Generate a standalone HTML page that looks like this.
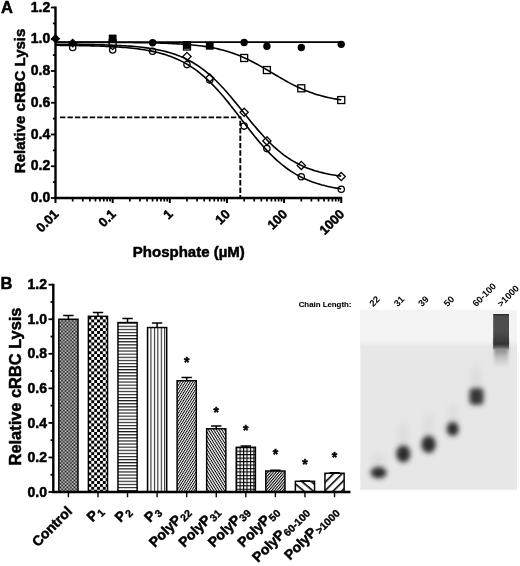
<!DOCTYPE html>
<html><head><meta charset="utf-8"><title>Figure</title>
<style>
html,body{margin:0;padding:0;background:#fff;}
svg{display:block;font-family:"Liberation Sans",sans-serif;}
.tk{font-size:14px;font-weight:bold;}
.tx{font-size:13px;font-weight:bold;}
.al{font-size:15px;font-weight:bold;}
.pl{font-size:16.5px;font-weight:bold;}
text{stroke:#000;stroke-width:0.5px;stroke-linejoin:round;}
.bl{font-size:14px;font-weight:bold;}
.sb{font-size:10.5px;stroke-width:0.35px;}
.st{font-size:14px;font-weight:bold;}
.cl{font-size:7.85px;font-weight:bold;stroke-width:0.1px;}
.ln{font-size:9.3px;font-weight:bold;stroke-width:0;}
</style></head><body>
<svg width="520" height="566" viewBox="0 0 520 566">
<defs>
<pattern id="pCtl" width="1.4" height="1.4" patternUnits="userSpaceOnUse"><rect width="1.4" height="1.4" fill="#e8e8e8"/><rect width="0.7" height="0.7" fill="#000"/><rect x="0.7" y="0.7" width="0.7" height="0.7" fill="#000"/></pattern>
<pattern id="pChk" width="5.77" height="5.77" patternUnits="userSpaceOnUse" x="88.4" y="316.6"><rect width="5.77" height="5.77" fill="#fff"/><rect width="2.95" height="2.95" fill="#000"/><rect x="2.88" y="2.88" width="2.95" height="2.95" fill="#000"/></pattern>
<pattern id="pH" width="4" height="3.1" patternUnits="userSpaceOnUse" y="322.6"><rect width="4" height="3.1" fill="#fff"/><rect width="4" height="1.15" fill="#1a1a1a"/></pattern>
<pattern id="pV" width="3.44" height="4" patternUnits="userSpaceOnUse" x="147"><rect width="3.44" height="4" fill="#fff"/><rect width="1.05" height="4" fill="#222"/></pattern>
<pattern id="pD1" width="2.1" height="2.1" patternUnits="userSpaceOnUse" patternTransform="rotate(-58)"><rect width="2.1" height="2.1" fill="#fff"/><rect width="2.1" height="0.95" fill="#000"/></pattern>
<pattern id="pD3" width="2.1" height="2.1" patternUnits="userSpaceOnUse" patternTransform="rotate(-50)"><rect width="2.1" height="2.1" fill="#fff"/><rect width="2.1" height="1.05" fill="#000"/></pattern>
<pattern id="pD2" width="2.3" height="2.3" patternUnits="userSpaceOnUse" patternTransform="rotate(58)"><rect width="2.3" height="2.3" fill="#fff"/><rect width="2.3" height="1" fill="#000"/></pattern>
<pattern id="pG" width="3.46" height="3.46" patternUnits="userSpaceOnUse" x="236.1" y="447.2"><rect width="3.46" height="3.46" fill="#fff"/><rect width="3.46" height="1.1" fill="#000"/><rect width="1.1" height="3.46" fill="#000"/></pattern>
<pattern id="pW1" width="6" height="6" patternUnits="userSpaceOnUse" patternTransform="rotate(-45)"><rect width="6" height="6" fill="#fff"/><rect width="6" height="1.6" fill="#000"/></pattern>
<pattern id="pW2" width="6" height="6" patternUnits="userSpaceOnUse" patternTransform="rotate(40)"><rect width="6" height="6" fill="#fff"/><rect width="6" height="1.6" fill="#000"/></pattern>
<linearGradient id="gTop" x1="0" y1="0" x2="0" y2="1"><stop offset="0" stop-color="#f3f3f3"/><stop offset="0.8" stop-color="#f4f4f4"/><stop offset="1" stop-color="#e7e7e7"/></linearGradient>
<linearGradient id="gBig" x1="0" y1="0" x2="0" y2="1"><stop offset="0" stop-color="#262626"/><stop offset="0.07" stop-color="#4c4c4c"/><stop offset="0.45" stop-color="#4e4e4e"/><stop offset="0.72" stop-color="#3e3e3e"/><stop offset="0.85" stop-color="#343434"/><stop offset="0.92" stop-color="#555"/><stop offset="1" stop-color="#959595"/></linearGradient>
<linearGradient id="gTail" x1="0" y1="0" x2="0" y2="1"><stop offset="0" stop-color="#8a8a8a"/><stop offset="0.42" stop-color="#909090"/><stop offset="0.65" stop-color="#c2c2c2"/><stop offset="1" stop-color="#e7e7e7"/></linearGradient>
<filter id="bl2s" x="-40%" y="-20%" width="180%" height="140%"><feGaussianBlur stdDeviation="1.6"/></filter>
<filter id="bl1" x="-30%" y="-10%" width="160%" height="120%"><feGaussianBlur stdDeviation="0.7"/></filter>
<filter id="bl2" x="-80%" y="-80%" width="260%" height="260%"><feGaussianBlur stdDeviation="2.5"/></filter>
<filter id="bl3" x="-50%" y="-50%" width="200%" height="200%"><feGaussianBlur stdDeviation="3"/></filter>
</defs>
<rect width="520" height="566" fill="#fff"/>
<g id="plotA">
<path d="M60 117.4 H241.2" fill="none" stroke="#000" stroke-width="1.9" stroke-dasharray="5.4 2.03"/>
<path d="M240.3 116.5 V197.5" fill="none" stroke="#000" stroke-width="1.9" stroke-dasharray="5.4 2.03" stroke-dashoffset="3.3"/>
<circle cx="72.70" cy="47.39" r="3.15" fill="#fff" stroke="#000" stroke-width="1.3"/>
<circle cx="112.65" cy="50.00" r="3.15" fill="#fff" stroke="#000" stroke-width="1.3"/>
<circle cx="152.60" cy="51.30" r="3.15" fill="#fff" stroke="#000" stroke-width="1.3"/>
<circle cx="187.00" cy="64.60" r="3.15" fill="#fff" stroke="#000" stroke-width="1.3"/>
<circle cx="209.75" cy="80.05" r="3.15" fill="#fff" stroke="#000" stroke-width="1.3"/>
<circle cx="244.15" cy="126.09" r="3.15" fill="#fff" stroke="#000" stroke-width="1.3"/>
<circle cx="266.90" cy="148.60" r="3.15" fill="#fff" stroke="#000" stroke-width="1.3"/>
<circle cx="301.30" cy="176.73" r="3.15" fill="#fff" stroke="#000" stroke-width="1.3"/>
<circle cx="341.25" cy="189.27" r="3.15" fill="#fff" stroke="#000" stroke-width="1.3"/>
<path d="M55.50 34.11 L60.20 38.81 L55.50 43.51 L50.80 38.81Z" fill="#000" stroke="#000" stroke-width="0"/>
<path d="M72.70 38.39 L77.40 43.09 L72.70 47.79 L68.00 43.09Z" fill="#000" stroke="#000" stroke-width="0"/>
<path d="M112.65 41.40 L116.75 45.50 L112.65 49.60 L108.55 45.50Z" fill="#fff" stroke="#000" stroke-width="1.3"/>
<path d="M187.00 52.41 L191.10 56.51 L187.00 60.61 L182.90 56.51Z" fill="#fff" stroke="#000" stroke-width="1.3"/>
<path d="M209.75 73.89 L213.85 77.98 L209.75 82.08 L205.65 77.98Z" fill="#fff" stroke="#000" stroke-width="1.3"/>
<path d="M244.15 108.17 L248.25 112.27 L244.15 116.37 L240.05 112.27Z" fill="#fff" stroke="#000" stroke-width="1.3"/>
<path d="M266.90 136.80 L271.00 140.90 L266.90 145.00 L262.80 140.90Z" fill="#fff" stroke="#000" stroke-width="1.3"/>
<path d="M301.30 161.36 L305.40 165.46 L301.30 169.56 L297.20 165.46Z" fill="#fff" stroke="#000" stroke-width="1.3"/>
<path d="M341.25 172.47 L345.35 176.57 L341.25 180.67 L337.15 176.57Z" fill="#fff" stroke="#000" stroke-width="1.3"/>
<rect x="183.50" y="43.00" width="7.0" height="7.0" fill="#fff" stroke="#000" stroke-width="1.3"/>
<rect x="109.15" y="39.88" width="7.0" height="7.0" fill="#fff" stroke="#000" stroke-width="1.3"/>
<rect x="108.75" y="34.60" width="7.8" height="7.8" fill="#000" stroke="#000" stroke-width="0"/>
<rect x="183.10" y="41.10" width="7.8" height="7.8" fill="#000" stroke="#000" stroke-width="0"/>
<rect x="205.85" y="41.86" width="7.8" height="7.8" fill="#000" stroke="#000" stroke-width="0"/>
<rect x="240.65" y="54.48" width="7.0" height="7.0" fill="#fff" stroke="#000" stroke-width="1.3"/>
<rect x="263.40" y="66.55" width="7.0" height="7.0" fill="#fff" stroke="#000" stroke-width="1.3"/>
<rect x="297.80" y="84.80" width="7.0" height="7.0" fill="#fff" stroke="#000" stroke-width="1.3"/>
<rect x="337.75" y="96.55" width="7.0" height="7.0" fill="#fff" stroke="#000" stroke-width="1.3"/>
<circle cx="152.60" cy="42.69" r="3.7" fill="#000" stroke="#000" stroke-width="0"/>
<circle cx="244.15" cy="42.50" r="3.7" fill="#000" stroke="#000" stroke-width="0"/>
<circle cx="266.90" cy="46.24" r="3.7" fill="#000" stroke="#000" stroke-width="0"/>
<circle cx="301.30" cy="47.50" r="3.7" fill="#000" stroke="#000" stroke-width="0"/>
<circle cx="341.25" cy="44.33" r="3.7" fill="#000" stroke="#000" stroke-width="0"/>
<line x1="55.5" y1="42.1" x2="341.25" y2="42.1" stroke="#000" stroke-width="1.6"/>
<polyline points="55.50,42.31 57.90,42.31 60.30,42.31 62.70,42.32 65.11,42.32 67.51,42.32 69.91,42.32 72.31,42.32 74.71,42.33 77.11,42.33 79.51,42.33 81.91,42.34 84.32,42.34 86.72,42.34 89.12,42.35 91.52,42.35 93.92,42.36 96.32,42.36 98.72,42.37 101.12,42.38 103.53,42.39 105.93,42.39 108.33,42.40 110.73,42.41 113.13,42.42 115.53,42.44 117.93,42.45 120.33,42.47 122.74,42.48 125.14,42.50 127.54,42.52 129.94,42.54 132.34,42.56 134.74,42.59 137.14,42.62 139.54,42.65 141.95,42.68 144.35,42.72 146.75,42.76 149.15,42.81 151.55,42.86 153.95,42.91 156.35,42.97 158.75,43.04 161.16,43.11 163.56,43.18 165.96,43.27 168.36,43.36 170.76,43.47 173.16,43.58 175.56,43.70 177.96,43.83 180.37,43.98 182.77,44.14 185.17,44.31 187.57,44.50 189.97,44.71 192.37,44.93 194.77,45.18 197.17,45.45 199.58,45.74 201.98,46.05 204.38,46.40 206.78,46.77 209.18,47.17 211.58,47.60 213.98,48.07 216.38,48.58 218.79,49.13 221.19,49.71 223.59,50.34 225.99,51.02 228.39,51.74 230.79,52.51 233.19,53.33 235.59,54.20 238.00,55.12 240.40,56.09 242.80,57.12 245.20,58.19 247.60,59.31 250.00,60.49 252.40,61.70 254.80,62.96 257.21,64.26 259.61,65.59 262.01,66.96 264.41,68.35 266.81,69.76 269.21,71.18 271.61,72.61 274.01,74.05 276.42,75.48 278.82,76.89 281.22,78.30 283.62,79.68 286.02,81.03 288.42,82.35 290.82,83.64 293.22,84.88 295.63,86.08 298.03,87.23 300.43,88.34 302.83,89.39 305.23,90.40 307.63,91.35 310.03,92.25 312.43,93.10 314.84,93.90 317.24,94.65 319.64,95.35 322.04,96.01 324.44,96.62 326.84,97.19 329.24,97.73 331.64,98.22 334.05,98.67 336.45,99.10 338.85,99.49 341.25,99.85" fill="none" stroke="#000" stroke-width="1.6"/>
<polyline points="55.50,44.23 57.90,44.24 60.30,44.25 62.70,44.27 65.11,44.29 67.51,44.30 69.91,44.32 72.31,44.34 74.71,44.37 77.11,44.39 79.51,44.42 81.91,44.45 84.32,44.48 86.72,44.52 89.12,44.56 91.52,44.60 93.92,44.65 96.32,44.70 98.72,44.76 101.12,44.82 103.53,44.89 105.93,44.96 108.33,45.04 110.73,45.13 113.13,45.22 115.53,45.32 117.93,45.44 120.33,45.56 122.74,45.69 125.14,45.84 127.54,46.00 129.94,46.17 132.34,46.36 134.74,46.57 137.14,46.79 139.54,47.03 141.95,47.30 144.35,47.59 146.75,47.90 149.15,48.24 151.55,48.61 153.95,49.02 156.35,49.45 158.75,49.93 161.16,50.44 163.56,51.00 165.96,51.60 168.36,52.25 170.76,52.95 173.16,53.71 175.56,54.53 177.96,55.42 180.37,56.37 182.77,57.39 185.17,58.49 187.57,59.67 189.97,60.93 192.37,62.27 194.77,63.71 197.17,65.24 199.58,66.86 201.98,68.59 204.38,70.41 206.78,72.33 209.18,74.36 211.58,76.49 213.98,78.72 216.38,81.04 218.79,83.46 221.19,85.98 223.59,88.58 225.99,91.26 228.39,94.01 230.79,96.83 233.19,99.70 235.59,102.62 238.00,105.57 240.40,108.55 242.80,111.54 245.20,114.54 247.60,117.52 250.00,120.48 252.40,123.41 254.80,126.29 257.21,129.12 259.61,131.89 262.01,134.59 264.41,137.21 266.81,139.74 269.21,142.19 271.61,144.53 274.01,146.79 276.42,148.94 278.82,150.99 281.22,152.93 283.62,154.78 286.02,156.53 288.42,158.17 290.82,159.73 293.22,161.18 295.63,162.55 298.03,163.83 300.43,165.03 302.83,166.14 305.23,167.18 307.63,168.15 310.03,169.05 312.43,169.88 314.84,170.66 317.24,171.37 319.64,172.04 322.04,172.65 324.44,173.22 326.84,173.74 329.24,174.22 331.64,174.67 334.05,175.08 336.45,175.46 338.85,175.81 341.25,176.13" fill="none" stroke="#000" stroke-width="1.6"/>
<polyline points="55.50,45.31 57.90,45.32 60.30,45.34 62.70,45.37 65.11,45.39 67.51,45.42 69.91,45.45 72.31,45.48 74.71,45.51 77.11,45.55 79.51,45.59 81.91,45.63 84.32,45.68 86.72,45.73 89.12,45.79 91.52,45.85 93.92,45.91 96.32,45.99 98.72,46.06 101.12,46.15 103.53,46.24 105.93,46.34 108.33,46.45 110.73,46.57 113.13,46.70 115.53,46.84 117.93,46.99 120.33,47.16 122.74,47.34 125.14,47.53 127.54,47.74 129.94,47.97 132.34,48.22 134.74,48.49 137.14,48.79 139.54,49.10 141.95,49.45 144.35,49.82 146.75,50.22 149.15,50.66 151.55,51.13 153.95,51.64 156.35,52.19 158.75,52.78 161.16,53.42 163.56,54.11 165.96,54.85 168.36,55.65 170.76,56.51 173.16,57.43 175.56,58.43 177.96,59.49 180.37,60.62 182.77,61.84 185.17,63.14 187.57,64.52 189.97,65.99 192.37,67.56 194.77,69.21 197.17,70.97 199.58,72.83 201.98,74.78 204.38,76.84 206.78,79.00 209.18,81.26 211.58,83.62 213.98,86.08 216.38,88.63 218.79,91.27 221.19,94.00 223.59,96.81 225.99,99.69 228.39,102.63 230.79,105.63 233.19,108.68 235.59,111.76 238.00,114.87 240.40,117.99 242.80,121.12 245.20,124.24 247.60,127.35 250.00,130.42 252.40,133.45 254.80,136.44 257.21,139.37 259.61,142.22 262.01,145.01 264.41,147.71 266.81,150.33 269.21,152.85 271.61,155.28 274.01,157.62 276.42,159.85 278.82,161.98 281.22,164.00 283.62,165.93 286.02,167.76 288.42,169.48 290.82,171.12 293.22,172.65 295.63,174.10 298.03,175.46 300.43,176.73 302.83,177.92 305.23,179.03 307.63,180.08 310.03,181.05 312.43,181.95 314.84,182.79 317.24,183.58 319.64,184.30 322.04,184.98 324.44,185.60 326.84,186.18 329.24,186.72 331.64,187.22 334.05,187.68 336.45,188.10 338.85,188.50 341.25,188.86" fill="none" stroke="#000" stroke-width="1.6"/>
<path d="M55.5 6.6 V198.0 H342.15" fill="none" stroke="#000" stroke-width="2.4"/>
<line x1="50.9" y1="198.00" x2="55.5" y2="198.00" stroke="#000" stroke-width="1.8"/>
<text x="50.2" y="202.10" text-anchor="end" class="tk">0.0</text>
<line x1="52.9" y1="182.12" x2="55.5" y2="182.12" stroke="#000" stroke-width="1.8"/>
<line x1="50.9" y1="166.25" x2="55.5" y2="166.25" stroke="#000" stroke-width="1.8"/>
<text x="50.2" y="170.35" text-anchor="end" class="tk">0.2</text>
<line x1="52.9" y1="150.38" x2="55.5" y2="150.38" stroke="#000" stroke-width="1.8"/>
<line x1="50.9" y1="134.50" x2="55.5" y2="134.50" stroke="#000" stroke-width="1.8"/>
<text x="50.2" y="138.60" text-anchor="end" class="tk">0.4</text>
<line x1="52.9" y1="118.62" x2="55.5" y2="118.62" stroke="#000" stroke-width="1.8"/>
<line x1="50.9" y1="102.75" x2="55.5" y2="102.75" stroke="#000" stroke-width="1.8"/>
<text x="50.2" y="106.85" text-anchor="end" class="tk">0.6</text>
<line x1="52.9" y1="86.88" x2="55.5" y2="86.88" stroke="#000" stroke-width="1.8"/>
<line x1="50.9" y1="71.00" x2="55.5" y2="71.00" stroke="#000" stroke-width="1.8"/>
<text x="50.2" y="75.10" text-anchor="end" class="tk">0.8</text>
<line x1="52.9" y1="55.12" x2="55.5" y2="55.12" stroke="#000" stroke-width="1.8"/>
<line x1="50.9" y1="39.25" x2="55.5" y2="39.25" stroke="#000" stroke-width="1.8"/>
<text x="50.2" y="43.35" text-anchor="end" class="tk">1.0</text>
<line x1="52.9" y1="23.38" x2="55.5" y2="23.38" stroke="#000" stroke-width="1.8"/>
<line x1="50.9" y1="7.50" x2="55.5" y2="7.50" stroke="#000" stroke-width="1.8"/>
<text x="50.2" y="11.60" text-anchor="end" class="tk">1.2</text>
<line x1="55.50" y1="198.0" x2="55.50" y2="203.0" stroke="#000" stroke-width="2"/>
<line x1="72.70" y1="198.0" x2="72.70" y2="201.5" stroke="#000" stroke-width="1.7"/>
<line x1="82.77" y1="198.0" x2="82.77" y2="201.5" stroke="#000" stroke-width="1.7"/>
<line x1="89.91" y1="198.0" x2="89.91" y2="201.5" stroke="#000" stroke-width="1.7"/>
<line x1="95.45" y1="198.0" x2="95.45" y2="201.5" stroke="#000" stroke-width="1.7"/>
<line x1="99.97" y1="198.0" x2="99.97" y2="201.5" stroke="#000" stroke-width="1.7"/>
<line x1="103.80" y1="198.0" x2="103.80" y2="201.5" stroke="#000" stroke-width="1.7"/>
<line x1="107.11" y1="198.0" x2="107.11" y2="201.5" stroke="#000" stroke-width="1.7"/>
<line x1="110.03" y1="198.0" x2="110.03" y2="201.5" stroke="#000" stroke-width="1.7"/>
<text transform="translate(59.40,215.0) rotate(-45)" text-anchor="end" class="tx">0.01</text>
<line x1="112.65" y1="198.0" x2="112.65" y2="203.0" stroke="#000" stroke-width="2"/>
<line x1="129.85" y1="198.0" x2="129.85" y2="201.5" stroke="#000" stroke-width="1.7"/>
<line x1="139.92" y1="198.0" x2="139.92" y2="201.5" stroke="#000" stroke-width="1.7"/>
<line x1="147.06" y1="198.0" x2="147.06" y2="201.5" stroke="#000" stroke-width="1.7"/>
<line x1="152.60" y1="198.0" x2="152.60" y2="201.5" stroke="#000" stroke-width="1.7"/>
<line x1="157.12" y1="198.0" x2="157.12" y2="201.5" stroke="#000" stroke-width="1.7"/>
<line x1="160.95" y1="198.0" x2="160.95" y2="201.5" stroke="#000" stroke-width="1.7"/>
<line x1="164.26" y1="198.0" x2="164.26" y2="201.5" stroke="#000" stroke-width="1.7"/>
<line x1="167.18" y1="198.0" x2="167.18" y2="201.5" stroke="#000" stroke-width="1.7"/>
<text transform="translate(116.55,215.0) rotate(-45)" text-anchor="end" class="tx">0.1</text>
<line x1="169.80" y1="198.0" x2="169.80" y2="203.0" stroke="#000" stroke-width="2"/>
<line x1="187.00" y1="198.0" x2="187.00" y2="201.5" stroke="#000" stroke-width="1.7"/>
<line x1="197.07" y1="198.0" x2="197.07" y2="201.5" stroke="#000" stroke-width="1.7"/>
<line x1="204.21" y1="198.0" x2="204.21" y2="201.5" stroke="#000" stroke-width="1.7"/>
<line x1="209.75" y1="198.0" x2="209.75" y2="201.5" stroke="#000" stroke-width="1.7"/>
<line x1="214.27" y1="198.0" x2="214.27" y2="201.5" stroke="#000" stroke-width="1.7"/>
<line x1="218.10" y1="198.0" x2="218.10" y2="201.5" stroke="#000" stroke-width="1.7"/>
<line x1="221.41" y1="198.0" x2="221.41" y2="201.5" stroke="#000" stroke-width="1.7"/>
<line x1="224.33" y1="198.0" x2="224.33" y2="201.5" stroke="#000" stroke-width="1.7"/>
<text transform="translate(173.70,215.0) rotate(-45)" text-anchor="end" class="tx">1</text>
<line x1="226.95" y1="198.0" x2="226.95" y2="203.0" stroke="#000" stroke-width="2"/>
<line x1="244.15" y1="198.0" x2="244.15" y2="201.5" stroke="#000" stroke-width="1.7"/>
<line x1="254.22" y1="198.0" x2="254.22" y2="201.5" stroke="#000" stroke-width="1.7"/>
<line x1="261.36" y1="198.0" x2="261.36" y2="201.5" stroke="#000" stroke-width="1.7"/>
<line x1="266.90" y1="198.0" x2="266.90" y2="201.5" stroke="#000" stroke-width="1.7"/>
<line x1="271.42" y1="198.0" x2="271.42" y2="201.5" stroke="#000" stroke-width="1.7"/>
<line x1="275.25" y1="198.0" x2="275.25" y2="201.5" stroke="#000" stroke-width="1.7"/>
<line x1="278.56" y1="198.0" x2="278.56" y2="201.5" stroke="#000" stroke-width="1.7"/>
<line x1="281.48" y1="198.0" x2="281.48" y2="201.5" stroke="#000" stroke-width="1.7"/>
<text transform="translate(230.85,215.0) rotate(-45)" text-anchor="end" class="tx">10</text>
<line x1="284.10" y1="198.0" x2="284.10" y2="203.0" stroke="#000" stroke-width="2"/>
<line x1="301.30" y1="198.0" x2="301.30" y2="201.5" stroke="#000" stroke-width="1.7"/>
<line x1="311.37" y1="198.0" x2="311.37" y2="201.5" stroke="#000" stroke-width="1.7"/>
<line x1="318.51" y1="198.0" x2="318.51" y2="201.5" stroke="#000" stroke-width="1.7"/>
<line x1="324.05" y1="198.0" x2="324.05" y2="201.5" stroke="#000" stroke-width="1.7"/>
<line x1="328.57" y1="198.0" x2="328.57" y2="201.5" stroke="#000" stroke-width="1.7"/>
<line x1="332.40" y1="198.0" x2="332.40" y2="201.5" stroke="#000" stroke-width="1.7"/>
<line x1="335.71" y1="198.0" x2="335.71" y2="201.5" stroke="#000" stroke-width="1.7"/>
<line x1="338.63" y1="198.0" x2="338.63" y2="201.5" stroke="#000" stroke-width="1.7"/>
<text transform="translate(288.00,215.0) rotate(-45)" text-anchor="end" class="tx">100</text>
<line x1="341.25" y1="198.0" x2="341.25" y2="203.0" stroke="#000" stroke-width="2"/>
<text transform="translate(345.15,215.0) rotate(-45)" text-anchor="end" class="tx">1000</text>
<text transform="translate(24.6,100.9) rotate(-90)" text-anchor="middle" class="al">Relative cRBC Lysis</text>
<text x="188.8" y="256.7" text-anchor="middle" class="al">Phosphate (µM)</text>
<text x="1" y="12.7" class="pl">A</text>
</g>
<g id="plotB">
<path d="M68.40 319.25 V315.62 M63.20 315.62 H73.60" stroke="#000" stroke-width="1.5" fill="none"/>
<rect x="58.80" y="319.25" width="19.2" height="172.75" fill="url(#pCtl)" stroke="#000" stroke-width="1.45"/>
<line x1="68.40" y1="492.0" x2="68.40" y2="497.2" stroke="#000" stroke-width="1.4"/>
<path d="M97.97 316.31 V312.51 M92.77 312.51 H103.17" stroke="#000" stroke-width="1.5" fill="none"/>
<rect x="88.37" y="316.31" width="19.2" height="175.69" fill="url(#pChk)" stroke="#000" stroke-width="1.45"/>
<line x1="97.97" y1="492.0" x2="97.97" y2="497.2" stroke="#000" stroke-width="1.4"/>
<path d="M127.54 322.53 V318.56 M122.34 318.56 H132.74" stroke="#000" stroke-width="1.5" fill="none"/>
<rect x="117.94" y="322.53" width="19.2" height="169.47" fill="url(#pH)" stroke="#000" stroke-width="1.45"/>
<line x1="127.54" y1="492.0" x2="127.54" y2="497.2" stroke="#000" stroke-width="1.4"/>
<path d="M157.11 327.54 V323.05 M151.91 323.05 H162.31" stroke="#000" stroke-width="1.5" fill="none"/>
<rect x="147.51" y="327.54" width="19.2" height="164.46" fill="url(#pV)" stroke="#000" stroke-width="1.45"/>
<line x1="157.11" y1="492.0" x2="157.11" y2="497.2" stroke="#000" stroke-width="1.4"/>
<path d="M186.68 380.75 V377.47 M181.48 377.47 H191.88" stroke="#000" stroke-width="1.5" fill="none"/>
<rect x="177.08" y="380.75" width="19.2" height="111.25" fill="url(#pD1)" stroke="#000" stroke-width="1.45"/>
<line x1="186.68" y1="492.0" x2="186.68" y2="497.2" stroke="#000" stroke-width="1.4"/>
<text x="186.68" y="366.5" text-anchor="middle" class="st">*</text>
<path d="M216.25 428.77 V426.01 M211.05 426.01 H221.45" stroke="#000" stroke-width="1.5" fill="none"/>
<rect x="206.65" y="428.77" width="19.2" height="63.23" fill="url(#pD2)" stroke="#000" stroke-width="1.45"/>
<line x1="216.25" y1="492.0" x2="216.25" y2="497.2" stroke="#000" stroke-width="1.4"/>
<text x="216.25" y="416.5" text-anchor="middle" class="st">*</text>
<path d="M245.82 447.26 V446.05 M240.62 446.05 H251.02" stroke="#000" stroke-width="1.5" fill="none"/>
<rect x="236.22" y="447.26" width="19.2" height="44.74" fill="url(#pG)" stroke="#000" stroke-width="1.45"/>
<line x1="245.82" y1="492.0" x2="245.82" y2="497.2" stroke="#000" stroke-width="1.4"/>
<text x="245.82" y="435.25" text-anchor="middle" class="st">*</text>
<path d="M275.39 470.99 V470.30 M270.19 470.30 H280.59" stroke="#000" stroke-width="1.5" fill="none"/>
<rect x="265.79" y="470.99" width="19.2" height="21.01" fill="url(#pD3)" stroke="#000" stroke-width="1.45"/>
<line x1="275.39" y1="492.0" x2="275.39" y2="497.2" stroke="#000" stroke-width="1.4"/>
<text x="275.39" y="459.0" text-anchor="middle" class="st">*</text>
<path d="M304.96 481.29 V480.94 M299.76 480.94 H310.16" stroke="#000" stroke-width="1.5" fill="none"/>
<rect x="295.36" y="481.29" width="19.2" height="10.71" fill="url(#pW2)" stroke="#000" stroke-width="1.45"/>
<line x1="304.96" y1="492.0" x2="304.96" y2="497.2" stroke="#000" stroke-width="1.4"/>
<text x="304.96" y="469.0" text-anchor="middle" class="st">*</text>
<path d="M334.53 473.26 V472.74 M329.33 472.74 H339.73" stroke="#000" stroke-width="1.5" fill="none"/>
<rect x="324.93" y="473.26" width="19.2" height="18.74" fill="url(#pW1)" stroke="#000" stroke-width="1.45"/>
<line x1="334.53" y1="492.0" x2="334.53" y2="497.2" stroke="#000" stroke-width="1.4"/>
<text x="334.53" y="461.5" text-anchor="middle" class="st">*</text>
<path d="M53.3 283.8 V492.0 H350.5" fill="none" stroke="#000" stroke-width="2.4"/>
<line x1="48.5" y1="492.00" x2="53.3" y2="492.00" stroke="#000" stroke-width="1.8"/>
<text x="47" y="496.60" text-anchor="end" class="tk">0.0</text>
<line x1="50.5" y1="474.73" x2="53.3" y2="474.73" stroke="#000" stroke-width="1.8"/>
<line x1="48.5" y1="457.45" x2="53.3" y2="457.45" stroke="#000" stroke-width="1.8"/>
<text x="47" y="462.05" text-anchor="end" class="tk">0.2</text>
<line x1="50.5" y1="440.18" x2="53.3" y2="440.18" stroke="#000" stroke-width="1.8"/>
<line x1="48.5" y1="422.90" x2="53.3" y2="422.90" stroke="#000" stroke-width="1.8"/>
<text x="47" y="427.50" text-anchor="end" class="tk">0.4</text>
<line x1="50.5" y1="405.62" x2="53.3" y2="405.62" stroke="#000" stroke-width="1.8"/>
<line x1="48.5" y1="388.35" x2="53.3" y2="388.35" stroke="#000" stroke-width="1.8"/>
<text x="47" y="392.95" text-anchor="end" class="tk">0.6</text>
<line x1="50.5" y1="371.07" x2="53.3" y2="371.07" stroke="#000" stroke-width="1.8"/>
<line x1="48.5" y1="353.80" x2="53.3" y2="353.80" stroke="#000" stroke-width="1.8"/>
<text x="47" y="358.40" text-anchor="end" class="tk">0.8</text>
<line x1="50.5" y1="336.52" x2="53.3" y2="336.52" stroke="#000" stroke-width="1.8"/>
<line x1="48.5" y1="319.25" x2="53.3" y2="319.25" stroke="#000" stroke-width="1.8"/>
<text x="47" y="323.85" text-anchor="end" class="tk">1.0</text>
<line x1="50.5" y1="301.98" x2="53.3" y2="301.98" stroke="#000" stroke-width="1.8"/>
<line x1="48.5" y1="284.70" x2="53.3" y2="284.70" stroke="#000" stroke-width="1.8"/>
<text x="47" y="289.30" text-anchor="end" class="tk">1.2</text>
<text transform="translate(72.90,512.3) rotate(-45)" text-anchor="end" class="bl">Control</text>
<text transform="translate(103.57,511.4) rotate(-45)" text-anchor="end" class="bl">P<tspan class="sb" dx="0.4" dy="2.8">1</tspan></text>
<text transform="translate(131.54,512.0) rotate(-45)" text-anchor="end" class="bl">P<tspan class="sb" dx="0.4" dy="2.8">2</tspan></text>
<text transform="translate(161.11,512.0) rotate(-45)" text-anchor="end" class="bl">P<tspan class="sb" dx="0.4" dy="2.8">3</tspan></text>
<text transform="translate(190.68,512.0) rotate(-45)" text-anchor="end" class="bl">PolyP<tspan class="sb" dx="0.4" dy="2.8">22</tspan></text>
<text transform="translate(220.25,512.0) rotate(-45)" text-anchor="end" class="bl">PolyP<tspan class="sb" dx="0.4" dy="2.8">31</tspan></text>
<text transform="translate(249.82,512.0) rotate(-45)" text-anchor="end" class="bl">PolyP<tspan class="sb" dx="0.4" dy="2.8">39</tspan></text>
<text transform="translate(279.39,512.0) rotate(-45)" text-anchor="end" class="bl">PolyP<tspan class="sb" dx="0.4" dy="2.8">50</tspan></text>
<text transform="translate(308.96,512.0) rotate(-45)" text-anchor="end" class="bl">PolyP<tspan class="sb" dx="0.4" dy="2.8">60-100</tspan></text>
<text transform="translate(338.53,512.0) rotate(-45)" text-anchor="end" class="bl">PolyP<tspan class="sb" dx="0.4" dy="2.8">&gt;1000</tspan></text>
<text transform="translate(20.7,386.5) rotate(-90)" text-anchor="middle" class="al" style="font-size:16.4px">Relative cRBC Lysis</text>
<text x="0.5" y="289.3" class="pl">B</text>
</g>
<g id="gel">
<rect x="360.3" y="310" width="156.7" height="179.7" fill="#e7e7e7"/>
<rect x="360.3" y="310" width="156.7" height="37" fill="url(#gTop)"/>
<ellipse cx="378.6" cy="463.74" rx="6.4" ry="12.32" fill="#d6d6d6" filter="url(#bl3)" opacity="0.55"/>
<ellipse cx="378.6" cy="472.7" rx="8" ry="5.6" fill="#2c2c2c" filter="url(#bl2)"/>
<ellipse cx="403.3" cy="440.29999999999995" rx="5.68" ry="18.700000000000003" fill="#d6d6d6" filter="url(#bl3)" opacity="0.55"/>
<ellipse cx="403.3" cy="453.9" rx="7.1" ry="8.5" fill="#2c2c2c" filter="url(#bl2)"/>
<ellipse cx="428.6" cy="430.54" rx="5.68" ry="18.92" fill="#d6d6d6" filter="url(#bl3)" opacity="0.55"/>
<ellipse cx="428.6" cy="444.3" rx="7.1" ry="8.6" fill="#2c2c2c" filter="url(#bl2)"/>
<ellipse cx="452.7" cy="417.64" rx="4.800000000000001" ry="15.620000000000001" fill="#d6d6d6" filter="url(#bl3)" opacity="0.55"/>
<ellipse cx="452.7" cy="429" rx="6" ry="7.1" fill="#2c2c2c" filter="url(#bl2)"/>
<ellipse cx="476.5" cy="382.86" rx="5.920000000000001" ry="18.480000000000004" fill="#d6d6d6" filter="url(#bl3)" opacity="0.55"/>
<rect x="469.5" y="388.3" width="14" height="16.5" rx="4" fill="#363636" filter="url(#bl2)"/>
<rect x="494" y="338" width="14.2" height="30" fill="url(#gTail)" filter="url(#bl2s)"/>
<rect x="493.2" y="314" width="15.8" height="35.5" fill="url(#gBig)" filter="url(#bl1)"/>
<text x="298.7" y="306.7" class="cl">Chain Length:</text>
<text transform="translate(373.2,307.2) rotate(-45)" class="ln">22</text>
<text transform="translate(397.7,307.2) rotate(-45)" class="ln">31</text>
<text transform="translate(422.1,307.2) rotate(-45)" class="ln">39</text>
<text transform="translate(447.5,307.2) rotate(-45)" class="ln">50</text>
<text transform="translate(476.3,307.3) rotate(-45)" class="ln">60-100</text>
<text transform="translate(501.2,307.5) rotate(-45)" class="ln">&gt;1000</text>
</g>
</svg>
</body></html>
